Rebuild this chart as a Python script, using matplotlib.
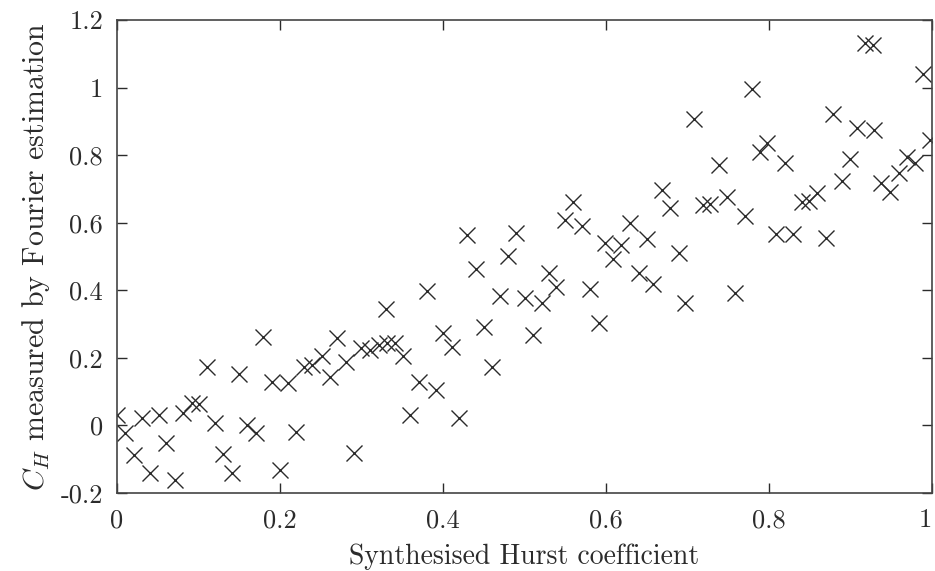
import matplotlib
matplotlib.use("Agg")
import matplotlib.pyplot as plt

# Synthesised Hurst coefficient vs. C_H from Fourier estimation
hurst = [
    0.000, 0.010, 0.021, 0.031, 0.040, 0.051, 0.060, 0.071, 0.081, 0.092,
    0.101, 0.110, 0.120, 0.130, 0.141, 0.150, 0.160, 0.171, 0.179, 0.190,
    0.200, 0.210, 0.220, 0.229, 0.239, 0.251, 0.261, 0.270, 0.281, 0.291,
    0.300, 0.310, 0.321, 0.330, 0.331, 0.341, 0.351, 0.360, 0.370, 0.380,
    0.391, 0.400, 0.411, 0.420, 0.429, 0.440, 0.450, 0.460, 0.470, 0.480,
    0.490, 0.501, 0.510, 0.521, 0.530, 0.539, 0.550, 0.559, 0.570, 0.580,
    0.591, 0.599, 0.609, 0.619, 0.629, 0.640, 0.650, 0.658, 0.669, 0.679,
    0.689, 0.697, 0.708, 0.719, 0.728, 0.739, 0.749, 0.758, 0.771, 0.779,
    0.789, 0.798, 0.809, 0.820, 0.830, 0.840, 0.849, 0.859, 0.870, 0.879,
    0.889, 0.899, 0.908, 0.918, 0.927, 0.929, 0.938, 0.948, 0.959, 0.969,
    0.979, 0.989, 0.998,
]
fourier_ch = [
    0.031, -0.023, -0.088, 0.021, -0.142, 0.031, -0.053, -0.162, 0.038, 0.065,
    0.063, 0.174, 0.006, -0.085, -0.140, 0.152, 0.001, -0.023, 0.263, 0.129,
    -0.132, 0.125, -0.019, 0.174, 0.179, 0.205, 0.144, 0.258, 0.189, -0.083,
    0.228, 0.223, 0.238, 0.344, 0.243, 0.243, 0.205, 0.031, 0.129, 0.399,
    0.105, 0.273, 0.233, 0.021, 0.564, 0.463, 0.290, 0.174, 0.383, 0.501,
    0.569, 0.376, 0.268, 0.361, 0.450, 0.411, 0.608, 0.662, 0.590, 0.403,
    0.304, 0.539, 0.492, 0.534, 0.598, 0.450, 0.551, 0.419, 0.697, 0.643,
    0.511, 0.361, 0.906, 0.652, 0.655, 0.771, 0.677, 0.393, 0.620, 0.995,
    0.810, 0.837, 0.567, 0.776, 0.567, 0.662, 0.665, 0.687, 0.554, 0.922,
    0.724, 0.790, 0.879, 1.133, 1.126, 0.874, 0.717, 0.692, 0.748, 0.795,
    0.778, 1.040, 0.845,
]

x_ticks = [0, 0.2, 0.4, 0.6, 0.8, 1.0]
x_tick_labels = ["0", "0.2", "0.4", "0.6", "0.8", "1"]
y_ticks = [-0.2, 0, 0.2, 0.4, 0.6, 0.8, 1.0, 1.2]
y_tick_labels = ["-0.2", "0", "0.2", "0.4", "0.6", "0.8", "1", "1.2"]

plt.rcParams["font.family"] = ["cmr10", "DejaVu Serif"]
plt.rcParams["mathtext.fontset"] = "cm"
plt.rcParams["axes.unicode_minus"] = False

ink = "#2b2b2b"

fig = plt.figure(figsize=(9.35, 5.71), dpi=100)
ax = fig.add_axes([0.1251, 0.1366, 0.8717, 0.8284])

ax.plot(hurst, fourier_ch, linestyle="none", marker="x", markersize=11,
        markeredgewidth=1.0, color=ink)

ax.set_xlim(0, 1)
ax.set_ylim(-0.2, 1.2)
ax.set_xticks(x_ticks)
ax.set_xticklabels(x_tick_labels)
ax.set_yticks(y_ticks)
ax.set_yticklabels(y_tick_labels)

ax.tick_params(direction="in", length=7, width=1.0, color=ink,
               top=True, right=True, labelsize=19, labelcolor=ink)
ax.tick_params(axis="x", pad=11)
ax.tick_params(axis="y", pad=10)
# keep the final "1" inside the canvas
ax.get_xticklabels()[-1].set_horizontalalignment("right")

for spine in ax.spines.values():
    spine.set_color("#444444")
    spine.set_linewidth(1.2)

ax.set_xlabel("Synthesised Hurst coefficient", fontsize=20, color=ink,
              labelpad=8)
ax.set_ylabel(r"$C_H$ measured by Fourier estimation", fontsize=21.5,
              color=ink, labelpad=6)

fig.savefig("out.png", dpi=100, facecolor="white")
